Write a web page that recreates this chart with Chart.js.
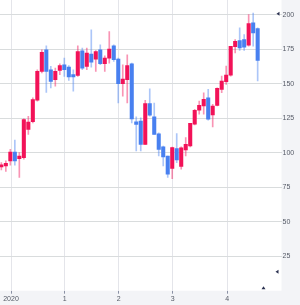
<!DOCTYPE html>
<html lang="en">
<head>
    <meta charset="UTF-8">
    <title>Candles</title>
    <script src="https://cdn.jsdelivr.net/npm/chart.js@4.4.1/dist/chart.umd.min.js"></script>
    <style>
        body { margin: 0; background: #f3f4f7; }
        #wrap { width: 300px; height: 305px; }
    </style>
</head>
<body>
    <div id="wrap"><canvas id="chart"></canvas></div>

    <script>
        // OHLC values, one entry per candle
        const openVals  = [89.7, 90.4, 94.0, 100.5, 95.7, 96.4, 116.8, 122.4, 138.0, 158.9, 174.5, 160.1, 152.9, 159.6, 163.7, 162.0, 156.5, 156.0, 173.8, 162.5,
                           171.5, 167.8, 174.5, 164.4, 168.5, 177.4, 167.8, 150.0, 152.9, 164.4, 122.4, 122.8, 106.0, 135.6, 126.0, 113.7, 104.3, 97.6, 88.5, 103.0,
                           90.0, 102.0, 104.9, 120.6, 130.7, 133.8, 139.8, 127.3, 134.3, 145.8, 151.4, 156.2, 176.7, 181.2, 181.9, 177.9, 194.0, 189.9];
        const closeVals = [91.1, 92.3, 100.5, 94.0, 97.6, 124.0, 122.1, 138.5, 158.9, 172.6, 158.9, 151.7, 158.9, 163.0, 160.1, 154.8, 154.8, 173.3, 161.3, 172.1,
                           165.5, 173.3, 164.4, 168.5, 175.0, 167.3, 150.0, 153.4, 163.0, 124.5, 120.4, 106.0, 135.6, 127.2, 113.2, 102.4, 96.9, 84.4, 103.6, 94.7,
                           103.5, 106.1, 121.3, 130.7, 134.3, 138.6, 124.2, 133.8, 146.6, 151.9, 156.2, 177.1, 180.7, 175.9, 176.4, 193.5, 186.8, 166.8];
        const highVals  = [92.8, 94.0, 102.4, 109.1, 100.0, 124.5, 126.4, 139.7, 160.1, 174.5, 177.4, 162.5, 161.3, 164.4, 168.5, 163.0, 160.1, 177.4, 175.7, 175.7,
                           188.9, 174.0, 178.1, 170.2, 187.7, 178.1, 168.5, 163.7, 170.9, 164.9, 126.0, 125.2, 138.0, 146.2, 136.0, 114.4, 104.8, 97.6, 104.1, 113.9,
                           104.2, 110.9, 121.3, 131.4, 137.4, 143.4, 145.8, 135.0, 147.0, 155.5, 162.7, 177.1, 181.9, 190.4, 185.6, 200.0, 201.2, 190.4];
        const lowVals   = [87.5, 86.5, 90.9, 90.9, 82.0, 95.2, 113.2, 121.6, 137.3, 157.7, 143.7, 146.9, 148.1, 156.5, 155.3, 152.4, 144.5, 155.3, 160.1, 160.1,
                           162.0, 158.9, 163.7, 158.9, 164.9, 166.1, 136.0, 140.9, 136.0, 121.6, 101.2, 101.2, 106.0, 126.4, 113.2, 97.6, 90.4, 82.0, 81.2, 92.8,
                           88.1, 97.7, 104.2, 120.1, 127.8, 127.8, 123.5, 118.6, 133.8, 143.4, 149.5, 155.5, 172.3, 174.0, 174.0, 177.1, 177.1, 151.9];

        // x-axis tick labels and where they sit (in candle index units)
        const xTickLabels = ['2020', '1', '2', '3', '4'];
        const xTickPos    = [2.15, 14.1, 26.1, 38.1, 50.2];

        const UP = '#f21258', UP_WICK = 'rgba(242,18,88,0.45)';
        const DOWN = '#4880f0', DOWN_WICK = 'rgba(72,128,240,0.45)';

        const isUp = openVals.map((o, i) => closeVals[i] >= o);

        const bodies = openVals.map((o, i) => ({ x: i, y: [o, closeVals[i]] }));
        const wicks  = openVals.map((o, i) => ({ x: i, y: [lowVals[i], highVals[i]] }));

        // gray page, white plot area, and the little arrow markers
        const bgPlugin = {
            id: 'bg',
            beforeDraw(chart) {
                const { ctx, chartArea: a } = chart;
                ctx.save();
                ctx.fillStyle = '#f3f4f7';
                ctx.fillRect(0, 0, chart.width, chart.height);
                ctx.fillStyle = '#ffffff';
                ctx.fillRect(a.left, a.top, a.right - a.left, a.bottom - a.top);
                ctx.restore();
            },
            afterDraw(chart) {
                const { ctx, chartArea: a, scales } = chart;
                ctx.save();
                ctx.fillStyle = '#2b3150';
                const tri = (pts) => {
                    ctx.beginPath();
                    ctx.moveTo(pts[0], pts[1]);
                    ctx.lineTo(pts[2], pts[3]);
                    ctx.lineTo(pts[4], pts[5]);
                    ctx.closePath();
                    ctx.fill();
                };
                const y200 = scales.y.getPixelForValue(200) - 1;
                tri([a.right - 5, y200, a.right - 2, y200 - 2, a.right - 2, y200 + 2]);
                tri([a.right - 6, a.bottom - 19, a.right - 3, a.bottom - 21, a.right - 3, a.bottom - 17]);
                tri([a.right - 20, a.bottom - 1.5, a.right - 18, a.bottom - 4.5, a.right - 16, a.bottom - 1.5]);
                ctx.restore();
            }
        };

        const noPad = (s) => { s.paddingTop = 0; s.paddingBottom = 0; s.paddingLeft = 0; s.paddingRight = 0; };

        new Chart(document.getElementById('chart'), {
            type: 'bar',
            data: {
                datasets: [
                    {
                        label: 'body',
                        data: bodies,
                        backgroundColor: isUp.map(u => u ? UP : DOWN),
                        barThickness: 3.4,
                        minBarLength: 1,
                        grouped: false
                    },
                    {
                        label: 'wick',
                        data: wicks,
                        backgroundColor: isUp.map(u => u ? UP_WICK : DOWN_WICK),
                        barThickness: 1,
                        grouped: false
                    }
                ]
            },
            options: {
                responsive: true,
                maintainAspectRatio: false,
                animation: false,
                layout: { padding: 0 },
                plugins: {
                    legend: { display: false },
                    tooltip: { enabled: false }
                },
                scales: {
                    x: {
                        type: 'linear',
                        offset: false,
                        min: -0.3,
                        max: 62.3,
                        afterBuildTicks: (s) => { s.ticks = xTickPos.map(v => ({ value: v })); },
                        afterFit: (s) => { s.height = 14.3; noPad(s); },
                        ticks: {
                            autoSkip: false,
                            maxRotation: 0,
                            padding: 1,
                            color: '#555a66',
                            font: { family: 'Liberation Sans, Arial, sans-serif', size: 7 },
                            callback: (v, i) => xTickLabels[i]
                        },
                        grid: { offset: false, color: '#e4e5ea', tickColor: '#8a90a4', tickLength: 3 },
                        border: { display: false }
                    },
                    y: {
                        position: 'right',
                        min: 0,
                        max: 210.6,
                        afterBuildTicks: (s) => { s.ticks = s.ticks.filter(t => t.value > 0 && t.value % 25 === 0); },
                        afterFit: (s) => { s.width = 18.5; noPad(s); },
                        ticks: {
                            stepSize: 25,
                            padding: 1,
                            color: '#555a66',
                            font: { family: 'Liberation Sans, Arial, sans-serif', size: 7 }
                        },
                        grid: { color: '#d9dcdd', drawTicks: false },
                        border: { display: false }
                    }
                }
            },
            plugins: [bgPlugin]
        });
    </script>
</body>
</html>
